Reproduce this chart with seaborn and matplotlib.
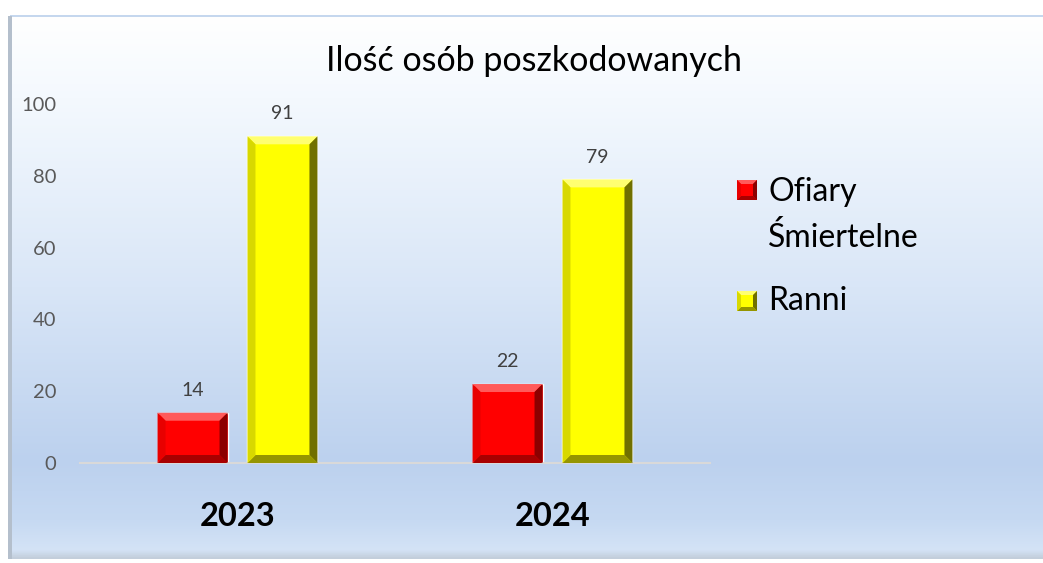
import matplotlib
matplotlib.use("Agg")
import matplotlib.pyplot as plt
import numpy as np
import pandas as pd
import seaborn as sns
from matplotlib.colors import LinearSegmentedColormap
from matplotlib.patches import Polygon, Rectangle
from matplotlib.transforms import IdentityTransform

years = ["2023", "2024"]
series = ["Ofiary Śmiertelne", "Ranni"]
ofiary = [14, 22]
ranni = [91, 79]
legend_labels = ["Ofiary\nŚmiertelne", "Ranni"]

df = pd.DataFrame({
    "rok": years * 2,
    "kategoria": [series[0]] * 2 + [series[1]] * 2,
    "liczba": ofiary + ranni,
})

sns.set_theme(style="white")
plt.rcParams["font.family"] = ["Lato", "DejaVu Sans"]

W, H = 1043, 563
fig = plt.figure(figsize=(W / 100, H / 100), dpi=100)
fig.patch.set_facecolor("white")

# background gradient of the chart area
bg = fig.add_axes([10 / W, 1 - 559 / H, 1033 / W, 543 / H], zorder=-5)
grad = LinearSegmentedColormap.from_list(
    "bg",
    [(0.0, "#ffffff"), (0.15, "#f4f9fe"), (0.5, "#d9e6f7"),
     (0.82, "#bcd1ee"), (0.93, "#c6d9f2"), (0.985, "#d4e3f6"), (1.0, "#c3cedb")],
)
bg.imshow(np.linspace(0, 1, 256).reshape(-1, 1), aspect="auto", cmap=grad,
          extent=[0, 1, 0, 1], origin="upper")
bg.set_axis_off()
fig.add_artist(Rectangle((10 / W, 1 - 17 / H), 1033 / W, 2 / H,
                         transform=fig.transFigure, facecolor="#c5d7ee",
                         edgecolor="none", zorder=-4))
fig.add_artist(Rectangle((8 / W, 1 - 559 / H), 4 / W, 543 / H,
                         transform=fig.transFigure, facecolor="#b4bfcc",
                         edgecolor="none", zorder=-3))

ax = fig.add_axes([80 / W, 1 - 463 / H, 630 / W, 359 / H])
ax.set_facecolor("none")

red = "#ff0000"
yellow = "#ffff00"
sns.barplot(data=df, x="rok", y="liczba", hue="kategoria", palette=[red, yellow],
            width=0.571, gap=0.222, ax=ax, legend=False, saturation=1)

ax.set_ylim(0, 100)
ax.set_xlim(-0.5, 1.5)
ax.set_yticks(range(0, 101, 20))
ax.tick_params(axis="y", labelsize=14.5, labelcolor="#595959", pad=17, length=0)
ax.tick_params(axis="x", labelsize=23.5, labelcolor="black", pad=28, length=0)
for lbl in ax.get_xticklabels():
    lbl.set_fontweight("bold")
ax.set_xlabel("")
ax.set_ylabel("")
for s in ["top", "right", "left"]:
    ax.spines[s].set_visible(False)
ax.spines["bottom"].set_color("#d9d9d9")
ax.spines["bottom"].set_linewidth(1.5)

for cont in ax.containers:
    ax.bar_label(cont, fontsize=14, color="#404040", padding=10)

fig.text(534 / W, 1 - 61 / H, "Ilość osób poszkodowanych", ha="center", va="center",
         fontsize=24.5, color="black")

shades = {
    red: ("#ff5a5a", "#e80000", "#8c0000", "#a80000"),
    yellow: ("#ffff70", "#d8d800", "#707000", "#959500"),
}


def bevel(x0, y0, x1, y1, color, b):
    top, left, right, bottom = shades[color]
    pts = [
        (top, [(x0, y1), (x1, y1), (x1 - b, y1 - b), (x0 + b, y1 - b)]),
        (bottom, [(x0, y0), (x1, y0), (x1 - b, y0 + b), (x0 + b, y0 + b)]),
        (left, [(x0, y0), (x0, y1), (x0 + b, y1 - b), (x0 + b, y0 + b)]),
        (right, [(x1, y0), (x1, y1), (x1 - b, y1 - b), (x1 - b, y0 + b)]),
    ]
    for c, p in pts:
        fig.add_artist(Polygon(p, closed=True, facecolor=c, edgecolor="none",
                               transform=IdentityTransform(), zorder=3))


fig.canvas.draw()
for patch in ax.patches:
    bb = patch.get_window_extent()
    fc = red if patch.get_facecolor()[1] < 0.5 else yellow
    bevel(bb.x0, bb.y0, bb.x1, bb.y1, fc, 8)

# legend
leg_y = [190, 301]
text_top = [177, 286]
for i, (lab, col) in enumerate(zip(legend_labels, [red, yellow])):
    x0, x1 = 737, 757
    y1 = H - (leg_y[i] - 10)
    y0 = H - (leg_y[i] + 10)
    fig.add_artist(Rectangle((x0, y0), 20, 20, facecolor=col, edgecolor="none",
                             transform=IdentityTransform(), zorder=2))
    bevel(x0, y0, x1, y1, col, 4)
    fig.text(768 / W, 1 - text_top[i] / H, lab, ha="left", va="top",
             fontsize=23, color="black", linespacing=1.6)

fig.savefig("out.png", dpi=100)
